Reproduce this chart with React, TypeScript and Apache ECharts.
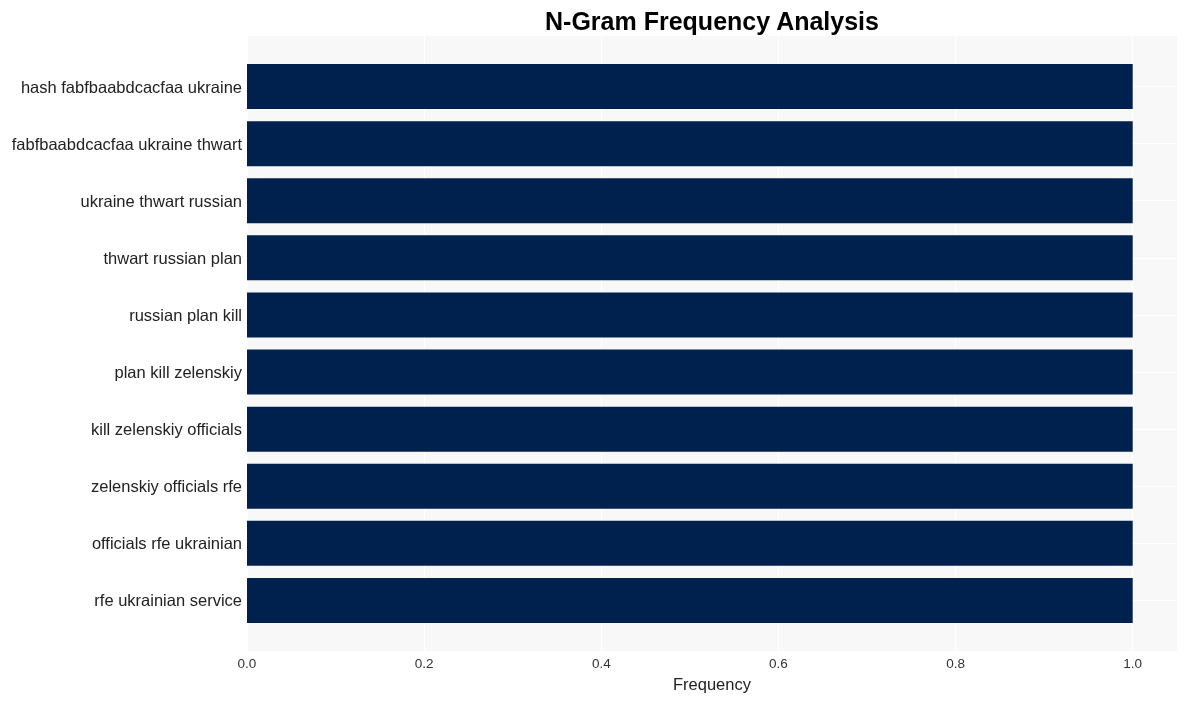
import React, { useEffect, useRef } from "react";
import * as echarts from "echarts";

const categories = [
  "hash fabfbaabdcacfaa ukraine",
  "fabfbaabdcacfaa ukraine thwart",
  "ukraine thwart russian",
  "thwart russian plan",
  "russian plan kill",
  "plan kill zelenskiy",
  "kill zelenskiy officials",
  "zelenskiy officials rfe",
  "officials rfe ukrainian",
  "rfe ukrainian service",
];
const frequencies = [1, 1, 1, 1, 1, 1, 1, 1, 1, 1];
const xTicks = [0, 0.2, 0.4, 0.6, 0.8, 1.0];

export default function App() {
  const ref = useRef<HTMLDivElement>(null);
  useEffect(() => {
    if (!ref.current) return;
    const chart = echarts.init(ref.current, null, { renderer: "svg" });
    const font = "Liberation Sans, Arial, sans-serif";
    const L = 247, W = 930;
    chart.setOption({
      animation: false,
      title: {
        text: "N-Gram Frequency Analysis",
        left: L + W / 2 - 5,
        textAlign: "center",
        top: 3,
        textStyle: { fontFamily: font, fontSize: 25, fontWeight: "bold", color: "#000" },
      },
      grid: [
        { left: L, top: 36, width: W, height: 615, show: true, backgroundColor: "#f8f8f8", borderWidth: 0 },
        { left: L, top: 58, width: W, height: 571 },
        { left: L, top: 86.5, width: W, height: 514 },
      ],
      xAxis: [
        {
          gridIndex: 0,
          type: "value",
          min: 0,
          max: 1.05,
          interval: 0.2,
          name: "Frequency",
          nameLocation: "middle",
          nameGap: 24,
          nameTextStyle: { fontFamily: font, fontSize: 16.5, color: "#222" },
          axisLine: { show: false },
          axisTick: { show: false },
          axisLabel: {
            showMaxLabel: false,
            margin: 5,
            fontFamily: font,
            fontSize: 13.5,
            color: "#333",
            formatter: (v: number) => (xTicks.some((t) => Math.abs(t - v) < 1e-9) ? v.toFixed(1) : ""),
          },
          splitLine: { show: true, lineStyle: { color: "#ffffff", width: 1 } },
        },
        { gridIndex: 1, type: "value", min: 0, max: 1.05, show: false, splitLine: { show: false } },
        { gridIndex: 2, type: "value", min: 0, max: 1.05, show: false, splitLine: { show: false } },
      ],
      yAxis: [
        { gridIndex: 0, type: "value", show: false, splitLine: { show: false } },
        {
          gridIndex: 1,
          type: "category",
          data: categories,
          inverse: true,
          axisLine: { show: false },
          axisTick: { show: false },
          splitLine: { show: false },
          axisLabel: { margin: 5, fontFamily: font, fontSize: 16.5, color: "#222" },
        },
        {
          gridIndex: 2,
          type: "value",
          min: 0,
          max: 9,
          interval: 1,
          axisLine: { show: false },
          axisTick: { show: false },
          axisLabel: { show: false },
          splitLine: { show: true, lineStyle: { color: "#ffffff", width: 1 } },
        },
      ],
      series: [
        {
          type: "bar",
          xAxisIndex: 1,
          yAxisIndex: 1,
          data: frequencies,
          barWidth: 45,
          itemStyle: { color: "#00214e" },
          z: 5,
        },
      ],
    });
    return () => chart.dispose();
  }, []);
  return <div ref={ref} style={{ position: "fixed", left: 0, top: 0, width: 1187, height: 701 }} />;
}
